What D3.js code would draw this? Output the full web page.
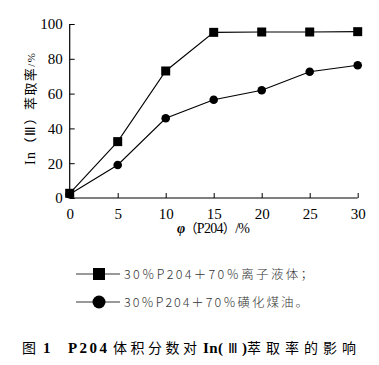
<!DOCTYPE html>
<html><head><meta charset="utf-8">
<script src="https://cdn.jsdelivr.net/npm/d3@7"></script>
<style>body{margin:0;background:#fff}svg{display:block}</style>
</head><body>
<script>
const xTicks = [0,5,10,15,20,25,30];
const yTicks = [0,20,40,60,80,100];
const phi = [0,5,10,15,20,25,30];
const ionicLiquid = [2.7,32.4,73.0,95.2,95.4,95.4,95.6];
const kerosene = [2.2,19.0,45.8,56.5,61.9,72.6,76.3];
const legendLabels = ["30％P204＋70％离子液体；","30％P204＋70％磺化煤油。"];

const W=379,H=365;
const svg=d3.select("body").append("svg").attr("width",W).attr("height",H);
const serif="'Liberation Serif','Times New Roman',serif";
const cjk="'Noto Sans CJK SC',sans-serif";
const x=d3.scaleLinear().domain([0,30]).range([69.7,357.7]);
const y=d3.scaleLinear().domain([0,100]).range([198,24]);

const gx=svg.append("g").attr("transform","translate(0,198)")
  .call(d3.axisBottom(x).tickValues(xTicks).tickSize(-5).tickPadding(10));
const gy=svg.append("g").attr("transform","translate(69.7,0)")
  .call(d3.axisLeft(y).tickValues(yTicks).tickSize(-5).tickPadding(7));
[gx,gy].forEach(g=>{
  g.select(".domain").attr("stroke","#000").attr("stroke-width",1.2);
  g.selectAll(".tick line").attr("stroke","#000");
  g.selectAll(".tick text").attr("font-family",serif).attr("font-size",15).attr("fill","#000");
});
gx.select(".domain").attr("d","M69.7,0H357.7");
gy.select(".domain").attr("d","M0,24V198");

const line=d3.line().x((d,i)=>x(phi[i])).y(d=>y(d));
svg.append("path").datum(ionicLiquid).attr("d",line).attr("fill","none").attr("stroke","#000").attr("stroke-width",1.1);
svg.append("path").datum(kerosene).attr("d",line).attr("fill","none").attr("stroke","#000").attr("stroke-width",1.1);
svg.selectAll(".sq").data(ionicLiquid).enter().append("rect")
  .attr("x",(d,i)=>x(phi[i])-4.5).attr("y",d=>y(d)-4.5).attr("width",9).attr("height",9).attr("fill","#000");
svg.selectAll(".ci").data(kerosene).enter().append("circle")
  .attr("cx",(d,i)=>x(phi[i])).attr("cy",d=>y(d)).attr("r",4.3).attr("fill","#000");

// axis titles
const xt=svg.append("text").attr("x",177).attr("y",233).attr("font-size",14).attr("fill","#000")
  .attr("textLength",73).attr("lengthAdjust","spacing");
xt.append("tspan").attr("font-family",serif).attr("font-style","italic").attr("font-weight","bold").text("φ");
xt.append("tspan").attr("font-family",cjk).attr("font-size",13).text("（");
xt.append("tspan").attr("font-family",serif).text("P204");
xt.append("tspan").attr("font-family",cjk).attr("font-size",13).text("）");
xt.append("tspan").attr("font-family",serif).text("/%");

const yt=svg.append("text").attr("transform","translate(35,165) rotate(-90)").attr("font-size",14).attr("fill","#000")
  .attr("textLength",112).attr("lengthAdjust","spacing");
yt.append("tspan").attr("font-family",serif).text("In");
yt.append("tspan").attr("font-family",cjk).attr("font-size",13).text("（");
yt.append("tspan").attr("font-family",serif).text("Ⅲ");
yt.append("tspan").attr("font-family",cjk).attr("font-size",13).text("）萃取率");
yt.append("tspan").attr("font-family",serif).attr("font-size",11).text("/%");

// legend
const legY=[274,302];
legendLabels.forEach((lab,i)=>{
  const g=svg.append("g");
  g.append("line").attr("x1",76).attr("x2",120).attr("y1",legY[i]).attr("y2",legY[i]).attr("stroke","#000").attr("stroke-width",0.8);
  if(i===0) g.append("rect").attr("x",93).attr("y",legY[i]-6).attr("width",12).attr("height",12).attr("fill","#000");
  else g.append("circle").attr("cx",99).attr("cy",legY[i]).attr("r",6.5).attr("fill","#000");
  g.append("text").attr("x",124).attr("y",legY[i]+5).attr("font-size",12.5).attr("fill","#333")
    .attr("font-family",cjk).attr("font-weight",300)
    .attr("textLength",i===0?189:184).attr("lengthAdjust","spacing").text(lab);
});

// caption
const capY=353;
const seg=(txt,x0,opts)=>{
  const t=svg.append("text").attr("x",x0).attr("y",capY).attr("font-size",opts.s||14).attr("fill","#000")
    .attr("font-family",opts.f).attr("font-weight",opts.b?"bold":"normal").text(txt);
  if(opts.len) t.attr("textLength",opts.len).attr("lengthAdjust","spacing");
  return t;
};
seg("图",22,{f:cjk});
seg("1",43,{f:serif,b:true,s:15});
seg("P204",68,{f:serif,b:true,s:15,len:39});
seg("体积分数对",113,{f:cjk,len:84});
seg("In(",203,{f:serif,b:true,s:15,len:20});
seg("Ⅲ",228,{f:serif,len:10});
seg(")",242,{f:serif,b:true,s:15});
seg("萃取率的影响",247,{f:cjk,len:109});
</script>
</body></html>
